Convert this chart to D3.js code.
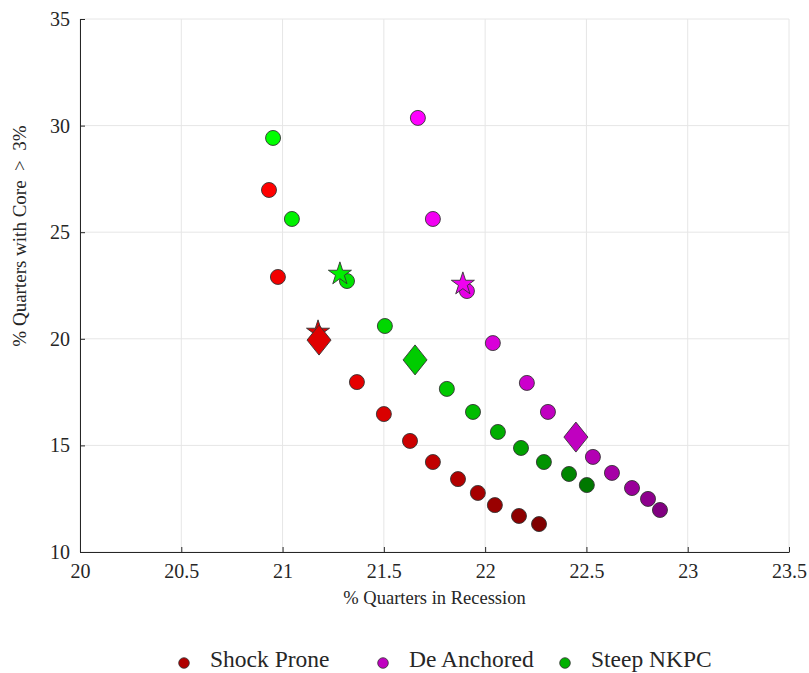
<!DOCTYPE html>
<html>
<head>
<meta charset="utf-8">
<script src="https://cdn.jsdelivr.net/npm/d3@7"></script>
<style>
  html, body { margin: 0; padding: 0; background: #fff; }
  svg { display: block; }
  text { font-family: "Liberation Serif", "DejaVu Serif", serif; fill: #262626; }
</style>
</head>
<body>
<svg id="chart" width="809" height="673"></svg>
<script>
// ---- Data ----
const seriesNames = ["Shock Prone", "De Anchored", "Steep NKPC"];

const shockX = [20.933, 20.977, 21.367, 21.500, 21.629, 21.742, 21.866, 21.964, 22.048, 22.167, 22.266];
const shockY = [26.98, 22.90, 17.97, 16.47, 15.21, 14.22, 13.42, 12.77, 12.20, 11.69, 11.31];

const deanX = [21.668, 21.742, 21.910, 22.038, 22.206, 22.310, 22.532, 22.626, 22.725, 22.804, 22.863];
const deanY = [30.36, 25.62, 22.24, 19.80, 17.93, 16.57, 14.46, 13.71, 13.00, 12.49, 11.97];

const steepX = [20.953, 21.046, 21.318, 21.505, 21.811, 21.940, 22.063, 22.177, 22.290, 22.414, 22.502];
const steepY = [29.42, 25.62, 22.71, 20.60, 17.65, 16.57, 15.63, 14.88, 14.22, 13.66, 13.14];

// star markers (one per series)
const starX = [21.175, 21.890, 21.283];
const starY = [20.32, 22.57, 23.04];
// diamond markers (one per series)
const diamondX = [21.180, 22.448, 21.654];
const diamondY = [19.94, 15.39, 19.01];

const xTicks = [20, 20.5, 21, 21.5, 22, 22.5, 23, 23.5];
const yTicks = [10, 15, 20, 25, 30, 35];

const xTitle = "% Quarters in Recession";
const yTitle = "% Quarters with Core  >  3%";

// ---- Styles ----
const brightColors = ["#ff0000", "#ff00ff", "#00ff00"];
const darkColors = ["#800000", "#800080", "#007800"];
const starColors = ["#e00000", "#f000f0", "#00f000"];
const diamondColors = ["#e00000", "#c000c0", "#00cc00"];
const legendColors = ["#b00000", "#c000c0", "#00b000"];

const svg = d3.select("#chart");
const mLeft = 80, mRight = 789, mTop = 19, mBottom = 552;

const x = d3.scaleLinear().domain([20, 23.5]).range([mLeft, mRight]);
const y = d3.scaleLinear().domain([10, 35]).range([mBottom, mTop]);

// gridlines
const grid = svg.append("g");
grid.selectAll("line.gx").data(xTicks).join("line")
  .attr("x1", d => x(d)).attr("x2", d => x(d))
  .attr("y1", mTop).attr("y2", mBottom)
  .attr("stroke", "#e6e6e6").attr("stroke-width", 1);
grid.selectAll("line.gy").data(yTicks).join("line")
  .attr("y1", d => y(d)).attr("y2", d => y(d))
  .attr("x1", mLeft).attr("x2", mRight)
  .attr("stroke", "#e6e6e6").attr("stroke-width", 1);

// axes (ticks inward)
const xAxis = d3.axisBottom(x).tickValues(xTicks).tickSizeInner(-5).tickSizeOuter(0).tickPadding(12)
  .tickFormat(d => d3.format("")(d));
const yAxis = d3.axisLeft(y).tickValues(yTicks).tickSizeInner(-5).tickSizeOuter(0).tickPadding(10)
  .tickFormat(d3.format("d"));

const gx = svg.append("g").attr("transform", `translate(0,${mBottom})`).call(xAxis);
const gy = svg.append("g").attr("transform", `translate(${mLeft},0)`).call(yAxis);
[gx, gy].forEach(g => {
  g.attr("font-size", 20).attr("font-family", "'Liberation Serif', serif");
  g.select(".domain").attr("stroke", "#262626").attr("stroke-width", 1);
  g.selectAll(".tick line").attr("stroke", "#262626");
  g.selectAll(".tick text").attr("font-size", 20).attr("fill", "#262626");
});

// titles
svg.append("text").attr("x", (mLeft + mRight) / 2).attr("y", 604)
  .attr("text-anchor", "middle").attr("font-size", 18.5).text(xTitle);
svg.append("text").attr("transform", "translate(26,236) rotate(-90)")
  .attr("text-anchor", "middle").attr("font-size", 19)
  .style("white-space", "pre").text(yTitle);

// circles
const allSeries = [
  {xs: shockX, ys: shockY},
  {xs: deanX, ys: deanY},
  {xs: steepX, ys: steepY}
];
const pts = svg.append("g");
allSeries.forEach((s, si) => {
  const col = d3.scaleLinear().domain([0, s.xs.length - 1])
    .range([brightColors[si], darkColors[si]]).interpolate(d3.interpolateRgb);
  const data = s.xs.map((v, i) => ({x: v, y: s.ys[i], i}));
  pts.selectAll(null).data(data).join("circle")
    .attr("cx", d => x(d.x)).attr("cy", d => y(d.y)).attr("r", 7.5)
    .attr("fill", d => col(d.i)).attr("stroke", "#333").attr("stroke-width", 0.9);
});

// stars
const starPath = d3.symbol().type(d3.symbolStar).size(165)();
svg.append("g").selectAll("path").data(starX.map((v, i) => ({x: v, y: starY[i], i})))
  .join("path")
  .attr("d", starPath)
  .attr("transform", d => `translate(${x(d.x)},${y(d.y)})`)
  .attr("fill", d => starColors[d.i]).attr("stroke", "#333").attr("stroke-width", 0.9);

// diamonds
const dw = 12, dh = 15;
const diamondPath = `M0,${-dh}L${dw},0L0,${dh}L${-dw},0Z`;
svg.append("g").selectAll("path").data(diamondX.map((v, i) => ({x: v, y: diamondY[i], i})))
  .join("path")
  .attr("d", diamondPath)
  .attr("transform", d => `translate(${x(d.x)},${y(d.y)})`)
  .attr("fill", d => diamondColors[d.i]).attr("stroke", "#333").attr("stroke-width", 0.9);

// legend
const legendX = [184, 383, 565];
const lg = svg.append("g");
seriesNames.forEach((name, i) => {
  lg.append("circle").attr("cx", legendX[i]).attr("cy", 663).attr("r", 5.3)
    .attr("fill", legendColors[i]).attr("stroke", "#333").attr("stroke-width", 0.8);
  lg.append("text").attr("x", legendX[i] + 26).attr("y", 667)
    .attr("font-size", 23.5).text(name);
});
</script>
</body>
</html>
